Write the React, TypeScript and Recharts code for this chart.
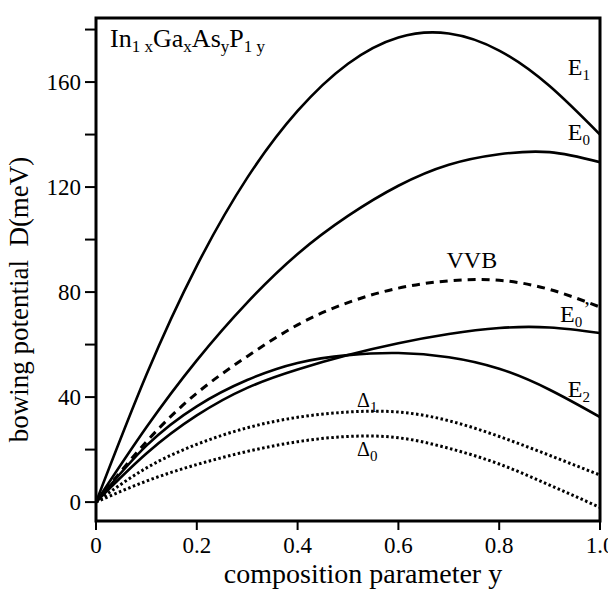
import React from 'react';
import { LineChart, Line, XAxis, YAxis, ReferenceArea, ReferenceDot } from 'recharts';

// composition parameter y
const compY = [0, 0.1, 0.2, 0.3, 0.4, 0.5, 0.6, 0.7, 0.8, 0.9, 1.0];
// bowing potentials D (meV)
const E1 = [0, 48.5, 90, 123.5, 149, 167, 177, 178.5, 172, 158.5, 140];
const E0 = [0, 28.5, 54, 76, 94.5, 109, 120.5, 128.5, 132.5, 133.3, 129.5];
const VVB = [0, 23, 41.5, 55.5, 67.5, 76, 81.5, 84.3, 84.5, 81, 74.3];
const E0p = [0, 18.5, 33, 43.5, 50.5, 56, 60.5, 64, 66.3, 66.5, 64.4];
const E2 = [0, 21.5, 36.5, 46.5, 53, 56, 56.8, 55.2, 50.8, 42.8, 32.4];
const D1 = [0, 13, 22, 28.3, 32.3, 34.3, 34.3, 31, 25, 17.8, 10.3];
const D0 = [0, 8, 14.3, 19.3, 23, 25, 24.5, 20.5, 14.5, 6.5, -2];

const xTicks = [0, 0.2, 0.4, 0.6, 0.8, 1.0];
const yTicks = [0, 20, 40, 60, 80, 100, 120, 140, 160, 180];
const yDomain: [number, number] = [-7.2, 184.4];

const data = compY.map((y, i) => ({
  y,
  E1: E1[i],
  E0: E0[i],
  VVB: VVB[i],
  E0p: E0p[i],
  E2: E2[i],
  D1: D1[i],
  D0: D0[i],
}));

const FONT = '"Liberation Serif", "Times New Roman", serif';

type LabelSpec = { x: number; y: number; main: string; sub?: string; prime?: boolean; size: number };
const curveLabels: LabelSpec[] = [
  { x: 0.936, y: 162.7, main: 'E', sub: '1', size: 24 },
  { x: 0.936, y: 137.9, main: 'E', sub: '0', size: 24 },
  { x: 0.6955, y: 89.0, main: 'VVB', size: 24 },
  { x: 0.9206, y: 68.7, main: 'E', sub: '0', prime: true, size: 24 },
  { x: 0.936, y: 40.1, main: 'E', sub: '2', size: 24 },
  { x: 0.518, y: 36.4, main: 'Δ', sub: '1', size: 20 },
  { x: 0.518, y: 17.4, main: 'Δ', sub: '0', size: 20 },
];

const makeCurveLabel = (spec: LabelSpec) => (props: any) => {
  const vb = props.viewBox || {};
  const x = (vb.x || 0) + (vb.width || 0) / 2;
  const y = (vb.y || 0) + (vb.height || 0) / 2;
  return (
    <text x={x} y={y} textAnchor="start" fontFamily={FONT} fontSize={spec.size} fill="#000">
      <tspan>{spec.main}</tspan>
      {spec.sub ? (
        <tspan fontSize={15} dy={5}>
          {spec.sub}
        </tspan>
      ) : null}
      {spec.prime ? (
        <tspan fontSize={22} dy={-11} dx={1}>
          ’
        </tspan>
      ) : null}
    </text>
  );
};

const titleLabel = (props: any) => {
  const vb = props.viewBox || {};
  const x = (vb.x || 0) + (vb.width || 0) / 2;
  const y = (vb.y || 0) + (vb.height || 0) / 2;
  return (
    <text x={x} y={y} textAnchor="start" fontFamily={FONT} fontSize={26} fill="#000" style={{ whiteSpace: 'pre' }}>
      <tspan>In</tspan>
      <tspan fontSize={17} dy={5}>1 x</tspan>
      <tspan dy={-5}>Ga</tspan>
      <tspan fontSize={17} dy={5}>x</tspan>
      <tspan dy={-5}>As</tspan>
      <tspan fontSize={17} dy={5}>y</tspan>
      <tspan dy={-5}>P</tspan>
      <tspan fontSize={17} dy={5}>1 y</tspan>
    </text>
  );
};

const yAxisTitle = (props: any) => {
  const vb = props.viewBox || {};
  const x = (vb.x || 0) + 20;
  const y = (vb.y || 0) + (vb.height || 0) / 2 + 30;
  return (
    <text
      x={x}
      y={y}
      transform={`rotate(-90, ${x}, ${y})`}
      textAnchor="middle"
      fontFamily={FONT}
      fontSize={27}
      fill="#000"
      style={{ whiteSpace: 'pre' }}
    >
      {'bowing potential  D(meV)'}
    </text>
  );
};

const xAxisTitle = (props: any) => {
  const vb = props.viewBox || {};
  const x = (vb.x || 0) + (vb.width || 0) / 2 + 15;
  const y = (vb.y || 0) + 62;
  return (
    <text x={x} y={y} textAnchor="middle" fontFamily={FONT} fontSize={28} fill="#000">
      composition parameter y
    </text>
  );
};

const tickStyle = { fontFamily: FONT, fontSize: 23, fill: '#000' };

export default function App() {
  return (
    <div style={{ marginLeft: -8, width: 616, height: 585, background: '#fff' }}>
      <LineChart
        width={616}
        height={585}
        data={data}
        margin={{ top: 10, right: 16, left: 8, bottom: 0 }}
      >
        <XAxis
          dataKey="y"
          type="number"
          domain={[0, 1]}
          ticks={xTicks}
          allowDataOverflow
          tickFormatter={(v: number) => (v === 0 ? '0' : v.toFixed(1))}
          axisLine={false}
          tickLine={{ stroke: '#000', strokeWidth: 2 }}
          tickSize={9}
          tickMargin={7}
          tick={tickStyle}
          height={72}
          interval={0}
          label={{ content: xAxisTitle }}
        />
        <YAxis
          type="number"
          domain={yDomain}
          ticks={yTicks}
          allowDataOverflow
          tickFormatter={(v: number) => (v % 40 === 0 ? String(v) : '')}
          axisLine={false}
          tickLine={{ stroke: '#000', strokeWidth: 2 }}
          tickSize={11}
          tickMargin={4}
          tick={tickStyle}
          width={88}
          interval={0}
          label={{ content: yAxisTitle }}
        />
        <Line dataKey="E1" type="natural" stroke="#000" strokeWidth={2.6} dot={false} isAnimationActive={false} />
        <Line dataKey="E0" type="natural" stroke="#000" strokeWidth={2.6} dot={false} isAnimationActive={false} />
        <Line dataKey="VVB" type="natural" stroke="#000" strokeWidth={3} strokeDasharray="8 6" dot={false} isAnimationActive={false} />
        <Line dataKey="E0p" type="natural" stroke="#000" strokeWidth={2.6} dot={false} isAnimationActive={false} />
        <Line dataKey="E2" type="natural" stroke="#000" strokeWidth={2.6} dot={false} isAnimationActive={false} />
        <Line dataKey="D1" type="natural" stroke="#000" strokeWidth={3} strokeDasharray="2.5 2.5" dot={false} isAnimationActive={false} />
        <Line dataKey="D0" type="natural" stroke="#000" strokeWidth={3} strokeDasharray="2.5 2.5" dot={false} isAnimationActive={false} />
        <ReferenceArea
          x1={0}
          x2={1}
          y1={yDomain[0]}
          y2={yDomain[1]}
          fill="none"
          fillOpacity={0}
          stroke="#000"
          strokeWidth={3}
          ifOverflow="extendDomain"
        />
        {curveLabels.map((s, i) => (
          <ReferenceDot key={i} x={s.x} y={s.y} r={0} fill="none" stroke="none" label={{ content: makeCurveLabel(s) }} />
        ))}
        <ReferenceDot x={0.028} y={173.3} r={0} fill="none" stroke="none" label={{ content: titleLabel }} />
      </LineChart>
    </div>
  );
}
